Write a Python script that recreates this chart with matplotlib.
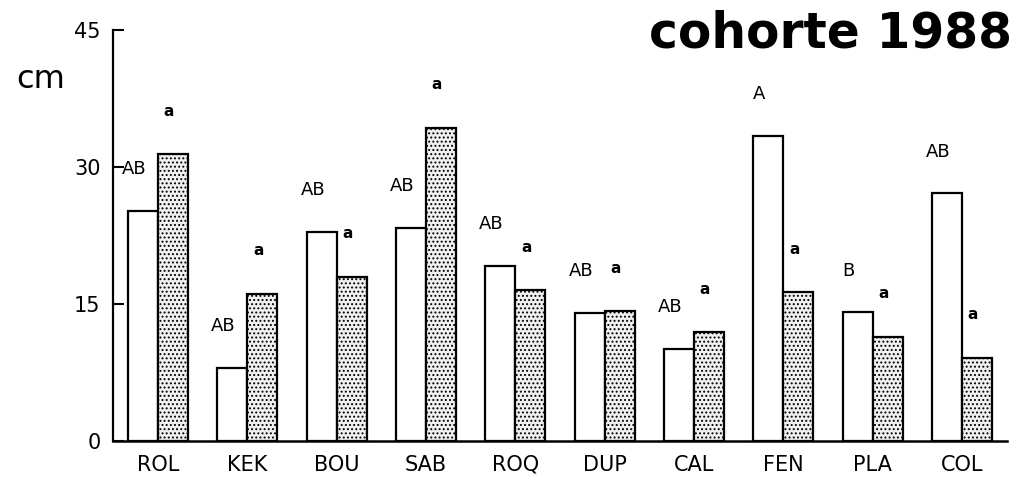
import numpy as np
import matplotlib
matplotlib.use("Agg")
import matplotlib.pyplot as plt

# data (cm)
sites = ['ROL', 'KEK', 'BOU', 'SAB', 'ROQ', 'DUP', 'CAL', 'FEN', 'PLA', 'COL']
white_vals = [25.2, 8.0, 22.9, 23.3, 19.2, 14.0, 10.1, 33.4, 14.1, 27.1]
dotted_vals = [31.4, 16.1, 18.0, 34.3, 16.5, 14.2, 11.9, 16.3, 11.4, 9.1]
white_letters = ['AB', 'AB', 'AB', 'AB', 'AB', 'AB', 'AB', 'A', 'B', 'AB']
dotted_letters = ['a'] * len(sites)

plt.rcParams['font.family'] = ['DejaVu Sans']
plt.rcParams['hatch.linewidth'] = 0.9

fig = plt.figure(figsize=(10.18, 4.83), dpi=100)
ax = fig.add_axes([0.111, 0.087, 0.878, 0.851])

x = np.arange(len(sites))
w = 0.336
b1 = ax.bar(x - w / 2, white_vals, w, color='white', edgecolor='black', linewidth=1.6)
b2 = ax.bar(x + w / 2, dotted_vals, w, color='#f0f0f0', edgecolor='black',
            linewidth=1.6, hatch='....')

for xi, v, lab in zip(x, white_vals, white_letters):
    ax.annotate(lab, (xi - w / 2, v), xytext=(-6.5, 30), textcoords='offset points',
                ha='center', va='center', fontsize=13)
for xi, v, lab in zip(x, dotted_vals, dotted_letters):
    ax.annotate(lab, (xi + w / 2, v), xytext=(-3, 31), textcoords='offset points',
                ha='center', va='center', fontsize=11, fontweight='bold')

ax.set_xlim(-0.505, 9.5)
ax.set_ylim(0, 45)
ax.set_yticks([0, 15, 30, 45])
ax.set_xticks(x)
ax.set_xticklabels(sites, fontsize=15)
ax.tick_params(axis='x', length=0, pad=10)
ax.tick_params(axis='y', direction='in', length=8, width=1.5, labelsize=15, pad=9)

ax.spines['top'].set_visible(False)
ax.spines['right'].set_visible(False)
ax.spines['left'].set_linewidth(1.6)
ax.spines['bottom'].set_linewidth(1.8)

fig.text(0.04, 0.835, 'cm', fontsize=23, ha='center', va='center')
fig.text(0.994, 0.93, 'cohorte 1988', fontsize=35, fontweight='bold', ha='right', va='center')

fig.savefig('out.png', dpi=100)
